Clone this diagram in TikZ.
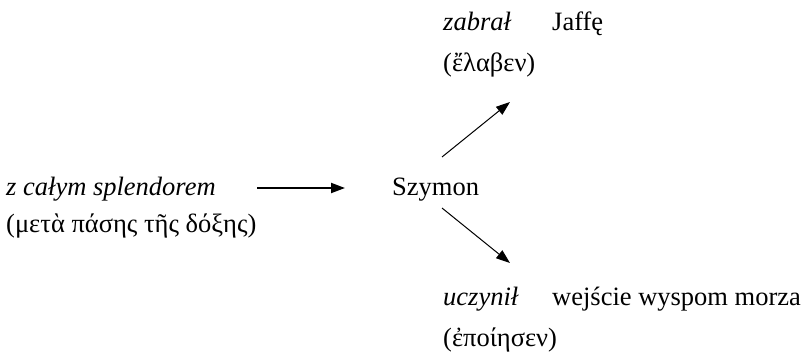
\documentclass[tikz,border=0pt]{standalone}
\usepackage{fontspec}
\setmainfont{Liberation Serif}
\usetikzlibrary{arrows.meta}
\begin{document}
\begin{tikzpicture}[x=1pt,y=-1pt,
  lbl/.style={inner sep=0pt,anchor=base west,font=\fontsize{26.5}{30}\selectfont},
  link/.style={line width=1pt,-{Triangle[length=14pt,width=10pt]}},
  mainlink/.style={link,line width=2pt}]
\useasboundingbox (0,0) rectangle (803,354);
% source phrase
\node[lbl] (src) at (6,195) {\itshape z całym splendorem};
\node[lbl] (srcgr) at (6,232) {(μετὰ πάσης τῆς δόξης)};
% subject
\node[lbl] (subj) at (392,195) {Szymon};
% upper predicate
\node[lbl] (v1) at (443,30.5) {\itshape zabrał};
\node[lbl] (o1) at (552,30.5) {Jaffę};
\node[lbl] (v1gr) at (443,71.5) {(ἔλαβεν)};
% lower predicate
\node[lbl] (v2) at (443,305) {\itshape uczynił};
\node[lbl] (o2) at (552,305) {wejście wyspom morza};
\node[lbl] (v2gr) at (443,346) {(ἐποίησεν)};
% connector ends
\coordinate (a0) at (257,188);
\coordinate (a1) at (345,188);
\coordinate (b0) at (442,157);
\coordinate (b1) at (510,102);
\coordinate (c0) at (442,208);
\coordinate (c1) at (510,263);
\draw[mainlink] (a0) -- (a1);
\draw[link] (b0) -- (b1);
\draw[link] (c0) -- (c1);
\end{tikzpicture}
\end{document}
